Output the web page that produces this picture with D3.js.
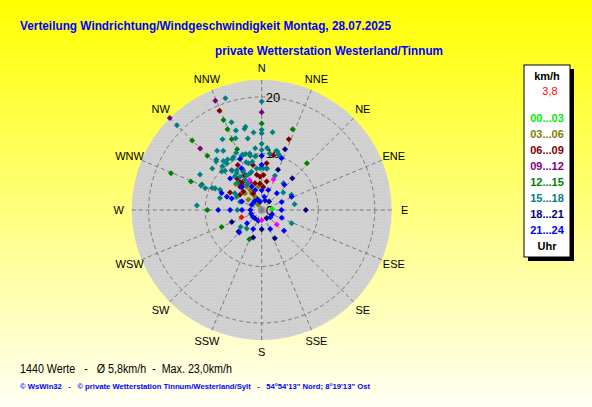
<!DOCTYPE html>
<html>
<head>
<meta charset="utf-8">
<script src="https://cdn.jsdelivr.net/npm/d3@7"></script>
<style>
body { margin: 0; }
svg { display: block; }
text { font-family: "Liberation Sans", Arial, sans-serif; }
</style>
</head>
<body>
<script>
// Wind points per time bin: [direction in degrees, speed in km/h]
var h00_03 = [[85,1.9]];
var h03_06 = [[354,9.6],[315,4.2],[331,3.7],[307,3.0],[337,2.3],[333,1.3],[0,4.4],[352,4.2],[330,4.1],
	[333,2.6],[338,1.6],[329,3.4],[323,1.5],[348,1.5],[326,1.1],[327,4.9],[332,6.8],[315,6.5]];
var h06_09 = [[337,19.1],[21,13.4],[12,9.9],[332,9.0],[349,8.1],[6,8.3],[323,8.8],[352,6.3],[357,5.9],
	[3,6.2],[327,6.0],[317,5.6],[346,4.9],[10,5.1],[299,6.4],[305,4.7],[322,6.3],[321,5.7],[334,6.9],
	[356,4.7],[4,4.1],[7,7.4],[322,7.1],[319,5.4],[315,4.6],[337,5.4],[333,3.3]];
var h09_12 = [[315,23.0],[337,21.0],[0,17.3],[315,15.4]];
var h12_15 = [[337,17.3],[337,15.5],[315,17.4],[315,13.6],[337,13.6],[0,15.3],[338,11.6],[21,15.3],
	[44,11.5],[292,17.3],[292,13.5],[293,11.5],[270,9.6],[247,7.7],[203,5.6]];
var h15_18 = [[342,20.8],[315,21.2],[341,16.4],[342,14.8],[348,14.7],[349,15.0],[331,14.3],[340,13.5],
	[349,12.9],[323,13.1],[327,12.5],[341,10.4],[344,10.3],[332,10.6],[318,12.0],[326,10.8],[0,19.2],
	[0,14.2],[0,13.6],[354,13.8],[8,13.9],[0,11.7],[0,10.6],[354,11.0],[5,11.0],[348,10.2],[8,10.1],
	[14,10.8],[17,10.3],[19,10.0],[336,11.1],[340,10.2],[348,9.8],[353,9.6],[0,9.6],[344,8.6],[21,6.5],
	[51,4.9],[63,5.9],[80,5.9],[114,5.8],[231,4.8],[219,4.2],[270,4.3],[274,11.5],[300,12.6],[292,11.6],
	[317,11.8],[322,11.0],[323,10.3],[330,10.4],[342,8.9],[349,8.7],[310,11.4],[314,9.8],[317,9.5],
	[335,7.8],[345,7.0],[294,9.6],[295,9.1],[291,10.7],[321,7.6],[329,5.2],[302,5.6],[291,4.1],[286,7.7],
	[309,1.9],[39,6.1],[326,7.9],[327,7.0],[334,7.5],[331,6.1],[333,5.3],[318,6.4],[298,5.0],[296,8.2],
	[318,10.4],[323,8.7],[328,8.3],[337,6.7],[342,6.8],[353,7.4],[358,7.4],[2,7.4],[7,7.4]];
var h18_21 = [[21,11.5],[22,7.7],[44,7.8],[90,7.8],[41,2.0],[248,5.7],[180,3.4],[227,5.6],[155,5.5],
	[197,5.1],[149,1.7],[219,1.9]];
var h21_24 = [[21,9.8],[0,9.6],[337,9.8],[334,8.2],[0,8.0],[42,6.0],[42,4.0],[68,3.8],[90,3.5],[111,3.8],
	[66,5.8],[133,5.4],[156,3.7],[204,3.7],[228,3.5],[225,5.6],[270,3.5],[270,5.6],[270,7.7],[315,7.9],
	[293,7.7],[291,6.6],[291,5.7],[348,1.5],[319,5.4],[337,4.5],[342,3.7],[0,3.5],[18,3.7],[11,2.4],
	[293,3.8],[297,2.0],[270,2.0],[250,2.0],[231,2.0],[198,2.0],[112,2.0],[320,2.0],[340,2.0],[20,1.8],
	[130,2.0]];
var recentPts = [[21,5.8],[180,1.8],[134,3.7],[338,5.7]];
var currentPt = [[250,3.8]];

var binLabels = ["00...03","03...06","06...09","09...12","12...15","15...18","18...21","21...24"];
var directions = ["N","NNE","NE","ENE","E","ESE","SE","SSE","S","SSW","SW","WSW","W","WNW","NW","NNW"];
var ringValues = [10, 20];
var speedLabels = [0, 10, 20];
var maxSpeed = 23.0;
var currentText = "3,8";

// styles
var binColors = ["#00ee00","#808000","#800000","#800080","#008000","#008080","#000080","#0000ff"];
var W = 592, H = 407;
var CX = 261.7, CY = 210, R = 130;

var svg = d3.select("body").append("svg")
	.attr("width", W)
	.attr("height", H);

var defs = svg.append("defs");
var grad = defs.append("linearGradient")
	.attr("id","bg")
	.attr("x1",0).attr("y1",0).attr("x2",0).attr("y2",1);
grad.append("stop").attr("offset","0").attr("stop-color","#ffff00");
grad.append("stop").attr("offset","1").attr("stop-color","#fffff4");

var pat = defs.append("pattern")
	.attr("id","dots")
	.attr("patternUnits","userSpaceOnUse")
	.attr("width",3).attr("height",3);
pat.append("rect").attr("width",3).attr("height",3).attr("fill","#cfcfcf");
pat.append("rect").attr("x",1).attr("y",1).attr("width",1).attr("height",1).attr("fill","#dadada");

svg.append("rect")
	.attr("width", W)
	.attr("height", H)
	.attr("fill", "url(#bg)");

// Titles
svg.append("text")
	.attr("x",20).attr("y",30)
	.attr("font-size","13.5px").attr("font-weight","bold")
	.attr("fill","#0000ff")
	.attr("textLength",371).attr("lengthAdjust","spacingAndGlyphs")
	.text("Verteilung Windrichtung/Windgeschwindigkeit  Montag, 28.07.2025");
svg.append("text")
	.attr("x",215).attr("y",55)
	.attr("font-size","13.5px").attr("font-weight","bold")
	.attr("fill","#0000ff")
	.attr("textLength",228).attr("lengthAdjust","spacingAndGlyphs")
	.text("private Wetterstation Westerland/Tinnum");

var r = d3.scaleLinear().domain([0, maxSpeed]).range([0, R]);
var rad = function(deg) { return deg * Math.PI / 180; };

var chart = svg.append("g")
	.attr("transform", "translate(" + CX + "," + CY + ")");

chart.append("circle")
	.attr("r", R)
	.attr("fill", "url(#dots)");

// Rings
chart.selectAll(".ring")
	.data(ringValues)
	.enter()
	.append("circle")
	.attr("class","ring")
	.attr("r", function(d) { return r(d); })
	.attr("fill","none")
	.attr("stroke","#7a7a7a")
	.attr("stroke-width",1)
	.attr("stroke-dasharray","4,3");

// Spokes
chart.selectAll(".spoke")
	.data(directions)
	.enter()
	.append("line")
	.attr("class","spoke")
	.attr("x1",0).attr("y1",0)
	.attr("x2", function(d,i) { return d3.pointRadial(rad(i*22.5), R)[0]; })
	.attr("y2", function(d,i) { return d3.pointRadial(rad(i*22.5), R)[1]; })
	.attr("stroke","#7a7a7a")
	.attr("stroke-width",1)
	.attr("stroke-dasharray","4,3");

// Direction labels
chart.selectAll(".dir")
	.data(directions)
	.enter()
	.append("text")
	.attr("class","dir")
	.attr("x", function(d,i) { return d3.pointRadial(rad(i*22.5), R + 13)[0]; })
	.attr("y", function(d,i) { return d3.pointRadial(rad(i*22.5), R + 12)[1]; })
	.attr("dy","0.35em")
	.attr("text-anchor","middle")
	.attr("font-size","11px")
	.attr("fill","#000")
	.text(function(d) { return d; });

// Speed labels
chart.selectAll(".spd")
	.data(speedLabels)
	.enter()
	.append("text")
	.attr("class","spd")
	.attr("x", 4)
	.attr("y", function(d) { return -r(d); })
	.attr("dy","0.36em")
	.attr("font-size","13px")
	.attr("fill","#000")
	.text(function(d) { return d; });

// Points
var diamond = "M0,-3L3,0L0,3L-3,0Z";
var series = [h00_03, h03_06, h06_09, h09_12, h12_15, h15_18, h18_21, h21_24, recentPts, currentPt];
var seriesColors = binColors.concat(["#ff00ff","#ff0000"]);

series.forEach(function(pts, k) {
	chart.append("g")
		.selectAll("path")
		.data(pts)
		.enter()
		.append("path")
		.attr("d", diamond)
		.attr("fill", seriesColors[k])
		.attr("transform", function(d) {
			var p = d3.pointRadial(rad(d[0]), r(d[1]));
			return "translate(" + p[0] + "," + p[1] + ")";
		});
});

// Legend box
var lg = svg.append("g").attr("transform","translate(524,65)");
lg.append("rect").attr("x",4).attr("y",4).attr("width",46).attr("height",192).attr("fill","#000");
lg.append("rect").attr("width",46).attr("height",192).attr("fill","#fff").attr("stroke","#000");
lg.append("text")
	.attr("x",23).attr("y",15)
	.attr("text-anchor","middle").attr("font-size","11px").attr("font-weight","bold")
	.text("km/h");
lg.append("text")
	.attr("x",26).attr("y",30)
	.attr("text-anchor","middle").attr("font-size","11px")
	.attr("fill","#ff0000")
	.text(currentText);
lg.selectAll(".bin")
	.data(binLabels)
	.enter()
	.append("text")
	.attr("class","bin")
	.attr("x",23)
	.attr("y", function(d,i) { return 57 + i*16; })
	.attr("text-anchor","middle").attr("font-size","11px").attr("font-weight","bold")
	.attr("fill", function(d,i) { return binColors[i]; })
	.text(function(d) { return d; });
lg.append("text")
	.attr("x",23).attr("y",185)
	.attr("text-anchor","middle").attr("font-size","11px").attr("font-weight","bold")
	.text("Uhr");

// Footer
svg.append("text")
	.attr("x",20).attr("y",373)
	.attr("font-size","12px")
	.attr("fill","#000")
	.attr("textLength",212).attr("lengthAdjust","spacingAndGlyphs")
	.attr("xml:space","preserve")
	.text("1440 Werte   -   \u00d8 5,8km/h  -  Max. 23,0km/h");
svg.append("text")
	.attr("x",20).attr("y",389)
	.attr("font-size","8px").attr("font-weight","bold")
	.attr("fill","#0000ff")
	.attr("textLength",350).attr("lengthAdjust","spacingAndGlyphs")
	.attr("xml:space","preserve")
	.text("\u00a9 WsWin32   -   \u00a9 private Wetterstation Tinnum/Westerland/Sylt   -   54\u00b054'13\" Nord; 8\u00b019'13\" Ost");
</script>
</body>
</html>
